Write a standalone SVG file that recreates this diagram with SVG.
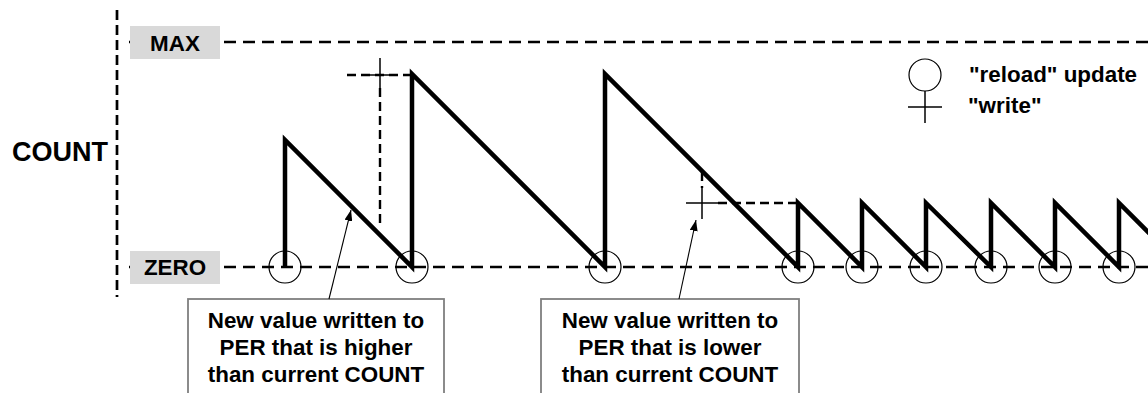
<svg xmlns="http://www.w3.org/2000/svg" width="1148" height="393" viewBox="0 0 1148 393">
  <style>
    .axis { stroke: #000; stroke-width: 2.7; stroke-dasharray: 12 7; fill: none; }
    .vaxis { stroke: #000; stroke-width: 2.7; stroke-dasharray: 10 5; fill: none; }
    .guide { stroke: #000; stroke-width: 2.4; stroke-dasharray: 9 5; fill: none; }
    .wave { stroke: #000; stroke-width: 4.5; fill: none; stroke-linejoin: miter; }
    .ring { stroke: #000; stroke-width: 1.2; fill: none; }
    .mark { stroke: #000; stroke-width: 1.5; fill: none; }
    .lvlbox { fill: #d9d9d9; stroke: none; }
    .lbl { font-family: "Liberation Sans", Arial, sans-serif; font-weight: bold; font-size: 22.4px; fill: #000; }
    .callout { fill: #fff; stroke: #7f7f7f; stroke-width: 1.8; }
    .conn { stroke: #000; stroke-width: 1.1; fill: none; }
  </style>
  <defs>
    <marker id="ah" markerUnits="userSpaceOnUse" markerWidth="12" markerHeight="8" refX="11" refY="4" orient="auto">
      <path d="M0,0 L11,4 L0,8 z" fill="#000"/>
    </marker>
  </defs>
  <rect width="1148" height="393" fill="#fff"/>

  <g id="axis">
    <line class="vaxis" x1="117" y1="10" x2="117" y2="297"/>
    <text class="lbl" x="108" y="161" text-anchor="end" style="font-size:27px">COUNT</text>
  </g>

  <g id="max-level">
    <line class="axis" x1="129" y1="42" x2="1148" y2="42"/>
    <rect class="lvlbox" x="130" y="26" width="90" height="33"/>
    <text class="lbl" x="175" y="51" text-anchor="middle">MAX</text>
  </g>

  <g id="zero-level">
    <line class="axis" x1="129" y1="267" x2="1148" y2="267"/>
    <rect class="lvlbox" x="130" y="251" width="90" height="33"/>
    <text class="lbl" x="175" y="275" text-anchor="middle">ZERO</text>
  </g>

  <g id="write-higher">
    <line class="guide" x1="347" y1="75" x2="412" y2="75"/>
    <line class="guide" x1="380" y1="88" x2="380" y2="228"/>
    <line class="mark" x1="364" y1="75" x2="396" y2="75"/>
    <line class="mark" x1="380" y1="58" x2="380" y2="89"/>
  </g>

  <g id="write-lower">
    <line class="guide" x1="702" y1="172" x2="702" y2="188"/>
    <line class="guide" x1="718" y1="203" x2="798" y2="203"/>
    <line class="mark" x1="686" y1="203" x2="718" y2="203"/>
    <line class="mark" x1="702" y1="187" x2="702" y2="219"/>
  </g>

  <g id="count-waveform">
    <path class="wave" d="M285,267 V140 L412,267 V74 L605,267 V74 L798,267 V203 L862,267 V203 L926,267 V203 L991,267 V203 L1055,267 V203 L1119,267 V203 L1152,236"/>
  </g>

  <g id="reload-updates">
    <circle class="ring" cx="285" cy="267" r="16"/>
    <circle class="ring" cx="412" cy="267" r="16"/>
    <circle class="ring" cx="605" cy="267" r="16"/>
    <circle class="ring" cx="798" cy="267" r="16"/>
    <circle class="ring" cx="862" cy="267" r="16"/>
    <circle class="ring" cx="926" cy="267" r="16"/>
    <circle class="ring" cx="991" cy="267" r="16"/>
    <circle class="ring" cx="1055" cy="267" r="16"/>
    <circle class="ring" cx="1119" cy="267" r="16"/>
  </g>

  <g id="legend">
    <circle class="ring" cx="925" cy="75" r="16"/>
    <line class="mark" x1="925" y1="91" x2="925" y2="123"/>
    <line class="mark" x1="908" y1="107" x2="942" y2="107"/>
    <text class="lbl" x="969" y="82">"reload" update</text>
    <text class="lbl" x="968" y="113">"write"</text>
  </g>

  <g id="callout-higher">
    <rect class="callout" x="188" y="299" width="256" height="120"/>
    <text class="lbl" x="316" y="328" text-anchor="middle">New value written to</text>
    <text class="lbl" x="316" y="355" text-anchor="middle">PER that is higher</text>
    <text class="lbl" x="316" y="382" text-anchor="middle">than current COUNT</text>
  </g>

  <g id="callout-lower">
    <rect class="callout" x="541" y="299" width="258" height="120"/>
    <text class="lbl" x="670" y="328" text-anchor="middle">New value written to</text>
    <text class="lbl" x="670" y="355" text-anchor="middle">PER that is lower</text>
    <text class="lbl" x="670" y="382" text-anchor="middle">than current COUNT</text>
  </g>

  <g id="connectors">
    <line class="conn" x1="329" y1="299" x2="351" y2="210" marker-end="url(#ah)"/>
    <line class="conn" x1="679" y1="299" x2="696" y2="220" marker-end="url(#ah)"/>
  </g>
</svg>
